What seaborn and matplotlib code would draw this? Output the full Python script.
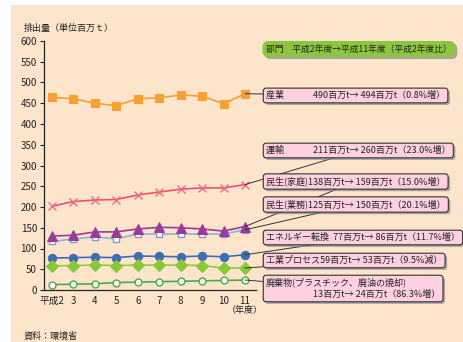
import matplotlib
matplotlib.use("Agg")
import matplotlib.pyplot as plt
import matplotlib.patheffects as pe
from matplotlib.patches import Rectangle
import seaborn as sns
import pandas as pd

years = ["平成2", "3", "4", "5", "6", "7", "8", "9", "10", "11"]
sangyo = [464, 461, 450, 444, 461, 463, 470, 467, 449, 473]
unyu = [202, 213, 217, 218, 229, 236, 243, 246, 246, 254]
minsei_katei = [130, 132, 140, 140, 147, 151, 150, 147, 142, 153]
minsei_gyomu = [117, 123, 128, 123, 135, 135, 135, 135, 135, 145]
energy = [77, 78, 79, 78, 82, 81, 80, 82, 80, 85]
kogyo = [58, 59, 60, 59, 60, 60, 60, 59, 53, 53]
haikibutsu = [13, 14, 15, 18, 19, 20, 21, 22, 23, 24]

labels = [
    "産業　　　 490百万t→ 494百万t（0.8%増）",
    "運輸　　　 211百万t→ 260百万t（23.0%増）",
    "民生(家庭)138百万t→ 159百万t（15.0%増）",
    "民生(業務)125百万t→ 150百万t（20.1%増）",
    "エネルギー転換  77百万t→ 86百万t（11.7%増）",
    "工業プロセス59百万t→ 53百万t（9.5%減）",
    "廃棄物(プラスチック、廃油の焼却)\n　　　　　 13百万t→ 24百万t（86.3%増）",
]
header = "部門　平成2年度→平成11年度（平成2年度比）"

W, H = 464, 342
BG = "#fde5cc"
sns.set_theme(style="white")
plt.rcParams['font.family'] = ['Noto Sans CJK JP', 'DejaVu Sans']

fig = plt.figure(figsize=(W / 100, H / 100), dpi=100)
fig.patch.set_facecolor("white")
fig.patches.append(Rectangle((11 / W, 0), 1 - 11 / W, 1 - 5 / H, transform=fig.transFigure,
                             facecolor=BG, edgecolor="none", zorder=-10))

ax = fig.add_axes([44 / W, 1 - 290 / H, (256 - 44) / W, (290 - 41) / H])
ax.set_facecolor("none")

x = list(range(len(years)))
series = [
    (sangyo, dict(color="#f5a033", marker="s", markersize=6.2, markerfacecolor="#f9a030",
                  markeredgecolor="#f9a030")),
    (unyu, dict(color="#f0506a", marker="x", markersize=6, markeredgecolor="#f06a88",
                markeredgewidth=1.0)),
    (minsei_gyomu, dict(color="#8fb2da", marker="s", markersize=5, markerfacecolor="white",
                        markeredgecolor="#7aa0d0", markeredgewidth=1.0)),
    (minsei_katei, dict(color="#9a3a9a", marker="^", markersize=6.5, markerfacecolor="#9a3a9a",
                        markeredgecolor="#9a3a9a")),
    (energy, dict(color="#3c6db5", marker="o", markersize=6, markerfacecolor="#3c6db5",
                  markeredgecolor="#3c6db5")),
    (kogyo, dict(color="#90cc40", marker="D", markersize=5.8, markerfacecolor="#8ac83a",
                 markeredgecolor="#8ac83a")),
    (haikibutsu, dict(color="#4aaa4a", marker="o", markersize=5, markerfacecolor="white",
                      markeredgecolor="#4aaa4a", markeredgewidth=1.0)),
]
for vals, kw in series:
    df = pd.DataFrame({"x": x, "y": vals})
    sns.lineplot(data=df, x="x", y="y", ax=ax, linewidth=1.2, legend=False, **kw)

ax.set_xlim(-0.37, 9.51)
ax.set_ylim(0, 600)
ax.set_yticks(range(0, 601, 50))
ax.set_xticks(x)
ax.set_xticklabels(years)
ax.set_xlabel("")
ax.set_ylabel("")
for s in ["top", "right"]:
    ax.spines[s].set_visible(False)
for s in ["left", "bottom"]:
    ax.spines[s].set_color("#222222")
    ax.spines[s].set_linewidth(0.9)
ax.tick_params(axis="y", direction="out", length=3, width=0.8, color="#222222",
               labelsize=7, pad=2, left=True, labelcolor="#222222")
ax.tick_params(axis="x", length=0, labelsize=7, pad=4, labelcolor="#222222")

fig.text(24 / W, 1 - 28 / H, "排出量（単位百万ｔ）", fontsize=6.5, va="center", ha="left",
         color="#222222")
fig.text(245 / W, 1 - 310 / H, "（年度）", fontsize=6.5, va="center", ha="center",
         color="#222222")
fig.text(24 / W, 1 - 336 / H, "資料：環境省", fontsize=6.5, va="center", ha="left",
         color="#222222")

shadow = [pe.withSimplePatchShadow(offset=(1.5, -1.5), shadow_rgbFace="#888888", alpha=0.7)]

FS = 6.5
hdr = fig.text(266 / W, 1 - 49 / H, header, fontsize=6.3, va="center", ha="left", color="#222222",
               bbox=dict(boxstyle="round,pad=0.4,rounding_size=0.7", facecolor="#8cc63f",
                         edgecolor="none"))
hdr.get_bbox_patch().set_path_effects(shadow)

ends = [sangyo[-1], unyu[-1], minsei_katei[-1], minsei_gyomu[-1], energy[-1], kogyo[-1],
        haikibutsu[-1]]
ypix = [95.5, 150.5, 181.5, 204.5, 237.5, 260.5, 288.5]
for lab, v, yp in zip(labels, ends, ypix):
    a = ax.annotate(lab, xy=(9, v), xycoords="data", xytext=(266, H - yp),
                    textcoords="figure pixels", fontsize=FS, va="center", ha="left",
                    color="#222222", annotation_clip=False, linespacing=1.3,
                    bbox=dict(boxstyle="round,pad=0.3,rounding_size=0.3", facecolor="#ffd0e0",
                              edgecolor="#333333", linewidth=0.8),
                    arrowprops=dict(arrowstyle="-", color="#333333", lw=0.7,
                                    shrinkA=0, shrinkB=0))
    a.get_bbox_patch().set_path_effects(shadow)

fig.savefig("out.png", dpi=100, facecolor=fig.get_facecolor())
